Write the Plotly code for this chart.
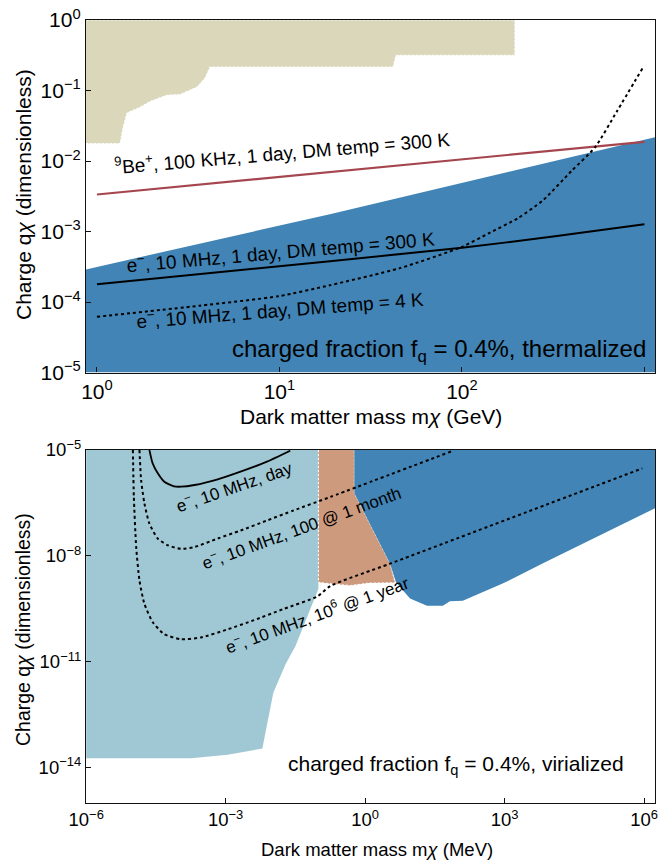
import plotly.graph_objects as go

# ---------------- top panel data (GeV, thermalized) ----------------
tan_top_x = [0.87, 1.337, 1.39, 1.46, 1.72, 1.95, 2.42, 2.85, 3.53, 3.91, 4.16, 41.9, 43.5, 195, 195, 0.87]
tan_top_y = [0.0177, 0.0177, 0.03, 0.048, 0.058, 0.07, 0.086, 0.088, 0.112, 0.15, 0.216, 0.216, 0.316, 0.316, 1.0, 1.0]

blue_top_x = [0.87, 3.67, 4.3, 18.9, 1143, 1143, 0.87]
blue_top_y = [2.9e-4, 6.76e-4, 7.5e-4, 1.76e-3, 0.0217, 1e-5, 1e-5]

be_x = [1, 1000]
be_y = [3.35e-3, 1.87e-2]

e300_x = [1, 18.9, 100, 316, 1000]
e300_y = [1.78e-4, 3.8e-4, 5.86e-4, 8.5e-4, 1.27e-3]

e4_x = [1, 3.67, 9.94, 18.9, 45.7, 100, 141, 203, 278, 398, 537, 708, 977]
e4_y = [6.17e-5, 8.87e-5, 1.21e-4, 1.73e-4, 3.02e-4, 6.05e-4, 9.5e-4, 1.55e-3, 2.77e-3, 7.2e-3, 0.0157, 0.051, 0.207]

top_xticks = [1, 10, 100, 1000]
top_xtext = ["10<sup>0</sup>", "10<sup>1</sup>", "10<sup>2</sup>", "10<sup>3</sup>"]
top_yticks = [1, 1e-1, 1e-2, 1e-3, 1e-4, 1e-5]
top_ytext = ["10<sup>0</sup>", "10<sup>−1</sup>", "10<sup>−2</sup>", "10<sup>−3</sup>", "10<sup>−4</sup>", "10<sup>−5</sup>"]

# ---------------- bottom panel data (MeV, virialized) ----------------
lb_x = [1e-6, 1e-6, 1.79e-4, 1.1e-3, 6.15e-3, 0.0106, 0.0194, 0.0318, 0.0989, 0.0989]
lb_y = [1e-5, 1.86e-14, 1.86e-14, 2.34e-14, 3.48e-14, 1.33e-12, 8.5e-12, 2.8e-11, 1.17e-9, 1e-5]

salmon_x = [0.0989, 0.0989, 0.2, 0.48, 1.2, 4.42, 3.44, 0.585, 0.585]
salmon_y = [1e-5, 1.78e-9, 1.6e-9, 1.45e-9, 1.7e-9, 1.74e-9, 6.0e-9, 6.0e-7, 1e-5]

blue_bot_x = [0.585, 0.585, 3.44, 4.63, 9.25, 21.4, 47.1, 66.5, 126, 908, 6530, 1.72e6, 1.72e6]
blue_bot_y = [1e-5, 6.0e-7, 6.0e-9, 1.76e-9, 6.2e-10, 3.9e-10, 3.9e-10, 5.2e-10, 5.4e-10, 1.64e-9, 6.1e-9, 2.24e-7, 1e-5]

day_x = [2.29e-5, 2.69e-5, 3.47e-5, 4.79e-5, 7.76e-5, 1.10e-4, 2.14e-4, 6.76e-4, 2.09e-3, 7.76e-3, 0.0245]
day_y = [1e-5, 4.17e-6, 2.19e-6, 1.26e-6, 9.33e-7, 9.12e-7, 1.02e-6, 1.48e-6, 2.45e-6, 4.68e-6, 9.55e-6]

month_x = [1.40e-5, 1.52e-5, 1.79e-5, 2.29e-5, 3.47e-5, 5.68e-5, 1.10e-4, 2.11e-4, 6.68e-4, 2.11e-3, 7.94e-3, 0.0292, 0.179, 78.3]
month_y = [1e-5, 1.40e-6, 3.05e-7, 8.22e-8, 3.09e-8, 2.0e-8, 1.58e-8, 1.78e-8, 3.09e-8, 5.25e-8, 1.02e-7, 1.95e-7, 4.68e-7, 9.55e-6]

year_x = [1.01e-5, 1.06e-5, 1.19e-5, 1.40e-5, 1.79e-5, 2.71e-5, 4.80e-5, 1.10e-4, 2.95e-4, 1.10e-3, 4.07e-3, 0.0178, 0.0933, 0.179, 3.44, 9.2e5]
year_y = [1e-5, 4.68e-7, 1.78e-8, 2.0e-9, 4.37e-10, 1.32e-10, 6.03e-11, 4.37e-11, 4.9e-11, 8.3e-11, 1.51e-10, 3.16e-10, 7.08e-10, 1.41e-9, 6.03e-9, 3.02e-6]

bot_xticks = [1e-6, 1e-3, 1, 1e3, 1e6]
bot_xtext = ["10<sup>−6</sup>", "10<sup>−3</sup>", "10<sup>0</sup>", "10<sup>3</sup>", "10<sup>6</sup>"]
bot_yticks = [1e-5, 1e-8, 1e-11, 1e-14]
bot_ytext = ["10<sup>−5</sup>", "10<sup>−8</sup>", "10<sup>−11</sup>", "10<sup>−14</sup>"]

TAN = "#dad7bb"
BLUE = "#4184b5"
LBLUE = "#a0c8d4"
SALMON = "#cd9a7d"
RED = "#a5464f"
FONT = "Liberation Sans, Arial, sans-serif"

W, H = 660, 861
ML, MR, MT, MB = 86, 5, 20, 58


def pxx(px):
    return (px - ML) / (W - ML - MR)


def pxy(py):
    return (H - MB - py) / (H - MT - MB)


fig = go.Figure()

# top panel
fig.add_trace(go.Scatter(x=tan_top_x, y=tan_top_y, fill="toself", fillcolor=TAN, mode="lines",
                         line=dict(color="white", width=1, dash="2px,2px"), xaxis="x", yaxis="y"))
fig.add_trace(go.Scatter(x=blue_top_x, y=blue_top_y, fill="toself", fillcolor=BLUE, mode="lines",
                         line=dict(width=0), xaxis="x", yaxis="y"))
fig.add_trace(go.Scatter(x=be_x, y=be_y, mode="lines", line=dict(color=RED, width=2.2), xaxis="x", yaxis="y"))
fig.add_trace(go.Scatter(x=e300_x, y=e300_y, mode="lines", line=dict(color="black", width=2, shape="spline", smoothing=0.6),
                         xaxis="x", yaxis="y"))
fig.add_trace(go.Scatter(x=e4_x, y=e4_y, mode="lines",
                         line=dict(color="black", width=2, dash="3px,3px", shape="spline", smoothing=0.6),
                         xaxis="x", yaxis="y"))

# bottom panel
fig.add_trace(go.Scatter(x=lb_x, y=lb_y, fill="toself", fillcolor=LBLUE, mode="lines",
                         line=dict(width=0), xaxis="x2", yaxis="y2"))
fig.add_trace(go.Scatter(x=salmon_x, y=salmon_y, fill="toself", fillcolor=SALMON, mode="lines",
                         line=dict(color="white", width=1, dash="2px,2px"), xaxis="x2", yaxis="y2"))
fig.add_trace(go.Scatter(x=blue_bot_x, y=blue_bot_y, fill="toself", fillcolor=BLUE, mode="lines",
                         line=dict(width=0), xaxis="x2", yaxis="y2"))
fig.add_trace(go.Scatter(x=day_x, y=day_y, mode="lines",
                         line=dict(color="black", width=1.8, shape="spline", smoothing=0.6), xaxis="x2", yaxis="y2"))
fig.add_trace(go.Scatter(x=month_x, y=month_y, mode="lines",
                         line=dict(color="black", width=2, dash="3px,3px", shape="spline", smoothing=0.6),
                         xaxis="x2", yaxis="y2"))
fig.add_trace(go.Scatter(x=year_x, y=year_y, mode="lines",
                         line=dict(color="black", width=2, dash="3px,3px", shape="spline", smoothing=0.6),
                         xaxis="x2", yaxis="y2"))

axis_common = dict(type="log", showgrid=False, zeroline=False, showline=True, linecolor="#111", linewidth=1.3,
                   mirror=True, ticks="inside", ticklen=5, tickwidth=1, tickcolor="#111", automargin=False)

top_dom = [pxy(372.5), 1.0]
bot_dom = [0.0, pxy(450)]

fig.update_layout(
    width=W, height=H, template="none", showlegend=False,
    paper_bgcolor="white", plot_bgcolor="white",
    margin=dict(l=ML, r=MR, t=MT, b=MB),
    font=dict(family=FONT, color="black"),
    xaxis=dict(axis_common, range=[-0.06, 3.058], anchor="y", domain=[0, 1],
               tickvals=top_xticks, ticktext=top_xtext, tickfont=dict(size=21, family=FONT)),
    yaxis=dict(axis_common, range=[-5, 0], anchor="x", domain=top_dom,
               tickvals=top_yticks, ticktext=top_ytext, tickfont=dict(size=21, family=FONT)),
    xaxis2=dict(axis_common, range=[-6.004, 6.235], anchor="y2", domain=[0, 1],
                tickvals=bot_xticks, ticktext=bot_xtext, tickfont=dict(size=18.5, family=FONT)),
    yaxis2=dict(axis_common, range=[-15, -5], anchor="x2", domain=bot_dom,
                tickvals=bot_yticks, ticktext=bot_ytext, tickfont=dict(size=18.5, family=FONT)),
)


def note(text, px, py, size, angle=0, xanchor="center"):
    fig.add_annotation(text=text, x=pxx(px), y=pxy(py), xref="paper", yref="paper", showarrow=False,
                       textangle=angle, xanchor=xanchor, yanchor="middle",
                       font=dict(size=size, family=FONT, color="black"))


# axis titles
note("Dark matter mass m<i>χ</i> (GeV)", 371, 416, 21)
note("Charge q<i>χ</i> (dimensionless)", 23, 195, 21, angle=-90)
note("Dark matter mass m<i>χ</i> (MeV)", 377, 849, 18.5)
note("Charge q<i>χ</i> (dimensionless)", 23, 630, 19.5, angle=-90)

# top labels
note("<sup>9</sup>Be<sup>+</sup>, 100 KHz, 1 day, DM temp = 300 K", 282, 152, 19, angle=-4.8)
note("e<sup>−</sup>, 10 MHz, 1 day, DM temp = 300 K", 280, 251, 19, angle=-5)
note("e<sup>−</sup>, 10 MHz, 1 day, DM temp = 4 K", 280, 309, 19, angle=-4.5)
note("charged fraction f<sub>q</sub> = 0.4%, thermalized", 648, 350, 24, xanchor="right")

# bottom labels
note("e<sup>−</sup>, 10 MHz, day", 234, 486, 17, angle=-19)
note("e<sup>−</sup>, 10 MHz, 100 @ 1 month", 301, 527, 17, angle=-20)
note("e<sup>−</sup>, 10 MHz, 10<sup>6</sup> @ 1 year", 317, 614, 17, angle=-20)
note("charged fraction f<sub>q</sub> = 0.4%, virialized", 626, 765, 21, xanchor="right")

fig.write_html("out.html", config={"displayModeBar": False},
               post_script="document.body.style.margin='0';document.body.style.padding='0';")
